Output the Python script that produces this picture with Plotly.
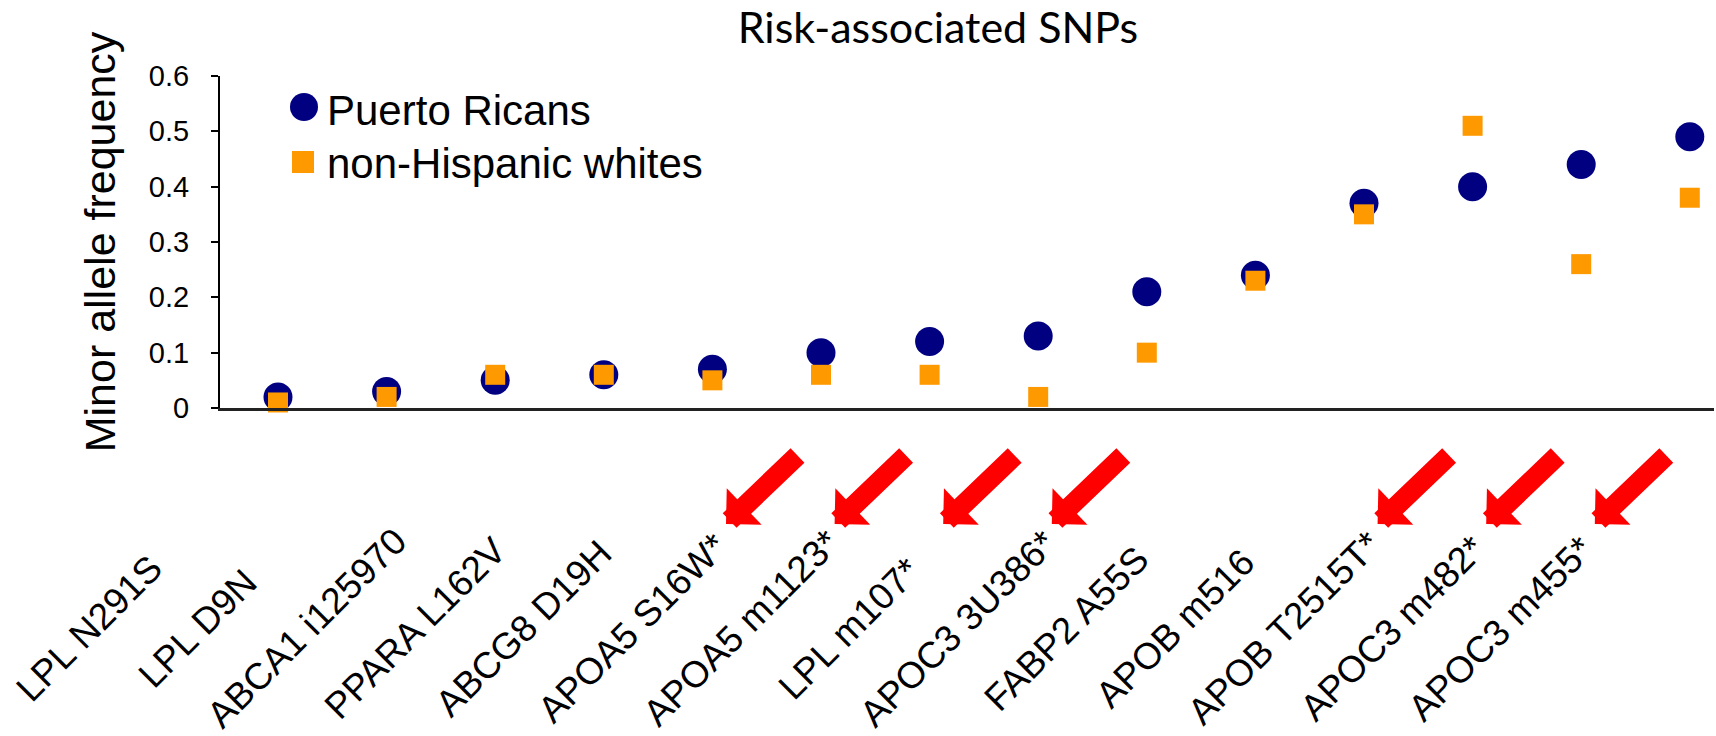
import plotly.graph_objects as go

# ---- data ----
snps = ["LPL N291S", "LPL D9N", "ABCA1 i125970", "PPARA L162V", "ABCG8 D19H",
        "APOA5 S16W*", "APOA5 m1123*", "LPL m107*", "APOC3 3U386*", "FABP2 A55S",
        "APOB m516", "APOB T2515T*", "APOC3 m482*", "APOC3 m455*"]
puerto_ricans = [0.02, 0.03, 0.05, 0.06, 0.07, 0.10, 0.12, 0.13, 0.21, 0.24,
                 0.37, 0.40, 0.44, 0.49]
non_hispanic_whites = [0.01, 0.02, 0.06, 0.06, 0.05, 0.06, 0.06, 0.02, 0.10, 0.23,
                       0.35, 0.51, 0.26, 0.38]
y_ticks = [0, 0.1, 0.2, 0.3, 0.4, 0.5, 0.6]
series_names = ["Puerto Ricans", "non-Hispanic whites"]

W, H = 1716, 736
ML, MR, MT, MB = 220, 2, 76, 328
PW = W - ML - MR
PH = H - MT - MB
STEP = 108.6                     # px between categories
X0 = -(278 - ML) / STEP          # left end of category axis

def px_x(p):
    return (p - ML) / PW

def px_y(p):
    return (H - MB - p) / PH

NAVY = "#000080"
ORANGE = "#FF9900"
ARIAL = "Liberation Sans, Arial, sans-serif"

fig = go.Figure()
fig.add_trace(go.Scatter(x=snps, y=puerto_ricans, mode="markers", name=series_names[0],
                         marker=dict(symbol="circle", size=29, color=NAVY, line=dict(width=0)),
                         cliponaxis=False, showlegend=False))
fig.add_trace(go.Scatter(x=snps, y=non_hispanic_whites, mode="markers", name=series_names[1],
                         marker=dict(symbol="square", size=20, color=ORANGE, line=dict(width=0)),
                         cliponaxis=False, showlegend=False))

annotations = []
# rotated category labels
for lab in snps:
    annotations.append(dict(x=lab, xref="x", y=0, yref="paper", text=lab, textangle=-45,
                            showarrow=False, xanchor="center", yanchor="middle",
                            xshift=-189, yshift=-220,
                            font=dict(family=ARIAL, size=37, color="black")))
# red arrows pointing at the starred (significant) SNPs
for i, lab in enumerate(snps):
    if lab.endswith("*"):
        annotations.append(dict(x=i, xref="x", y=0, yref="paper", text="",
                                showarrow=True, arrowhead=1, arrowsize=0.42, arrowwidth=20,
                                arrowcolor="#FF0000", axref="x", ayref="pixel",
                                ax=i + 73 / STEP, ay=-70, xshift=-95, yshift=-116))
# legend texts
annotations += [
    dict(x=px_x(325), y=px_y(110), xref="paper", yref="paper", text=series_names[0],
         showarrow=False, xanchor="left", yanchor="middle",
         font=dict(family=ARIAL, size=42, color="black")),
    dict(x=px_x(325), y=px_y(163), xref="paper", yref="paper", text=series_names[1],
         showarrow=False, xanchor="left", yanchor="middle",
         font=dict(family=ARIAL, size=42, color="black")),
]
# legend keys (pixel-sized symbols anchored in paper space)
shapes = [
    dict(type="circle", xref="paper", yref="paper", xsizemode="pixel", ysizemode="pixel",
         xanchor=px_x(304), yanchor=px_y(107), x0=-14, x1=14, y0=-14, y1=14,
         fillcolor=NAVY, line=dict(width=0)),
    dict(type="rect", xref="paper", yref="paper", xsizemode="pixel", ysizemode="pixel",
         xanchor=px_x(303), yanchor=px_y(162), x0=-11, x1=11, y0=-11, y1=11,
         fillcolor=ORANGE, line=dict(width=0)),
]

fig.update_layout(
    width=W, height=H,
    margin=dict(l=ML, r=MR, t=MT, b=MB, autoexpand=False),
    paper_bgcolor="white", plot_bgcolor="white",
    showlegend=False,
    title=dict(text="Risk-associated SNPs", x=938 / W, xref="container", xanchor="center",
               y=1 - 28 / H, yref="container", yanchor="middle",
               font=dict(family="Lato, Open Sans, sans-serif", size=43, color="black")),
    xaxis=dict(type="category", categoryorder="array", categoryarray=snps,
               range=[X0, X0 + PW / STEP],
               showline=True, linecolor="#222222", linewidth=2.5, ticks="",
               showticklabels=False, showgrid=False, zeroline=False),
    yaxis=dict(range=[0, 0.6], tickvals=y_ticks, ticktext=[f"{v:g}" for v in y_ticks],
               showline=True, linecolor="black", linewidth=2, ticks="outside",
               ticklen=7, tickwidth=2, tickcolor="black",
               tickfont=dict(family=ARIAL, size=29, color="black"),
               ticklabelstandoff=16,
               showgrid=False, zeroline=False,
               title=dict(text="Minor allele frequency", standoff=20,
                          font=dict(family=ARIAL, size=43, color="black"))),
    annotations=annotations,
    shapes=shapes,
)

fig.write_html("out.html")
